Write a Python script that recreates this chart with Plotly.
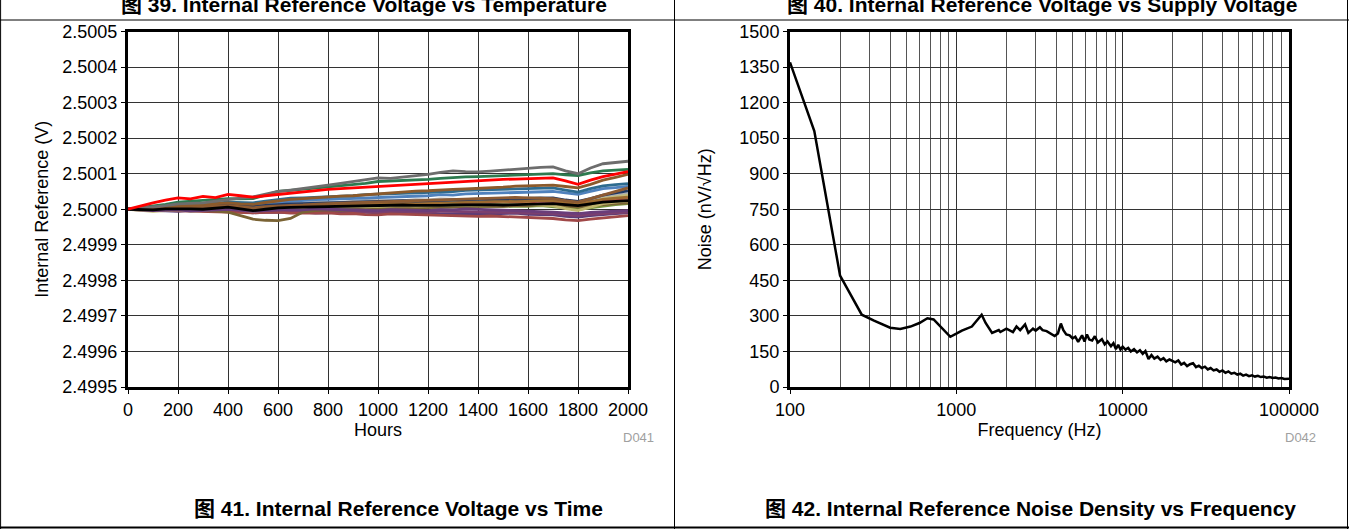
import plotly.graph_objects as go

# ---- 图 41: reference drift vs time (deviation from 2.5 V, in uV) ----
hours = [0, 50, 100, 150, 200, 250, 300, 350, 400, 450, 500, 550, 600, 650, 700,
         750, 800, 850, 900, 950, 1000, 1050, 1100, 1150, 1200, 1250, 1300, 1350,
         1400, 1450, 1500, 1550, 1600, 1650, 1700, 1750, 1800, 1850, 1900, 1950, 2000]

drift_colors = ['#b0b0b0', '#c4bc7a', '#8c8c8c', '#4f81bd', '#77933c', '#c0504d',
                '#5a3c78', '#7b3f6e', '#a04848', '#7a6334', '#9c6b30', '#1f3864',
                '#bfb56d', '#8c5a32', '#6a3d7a', '#2e6b8f', '#8b5a2b', '#2d7a4f',
                '#6d6d6d', '#000000', '#ff0000']

drift_uv = [
    [0, 1, 2, 6, 8, 7, 10, 13, 14, 11, 10, 13, 16, 15, 18, 20, 20, 19, 22, 25, 24,
     23, 24, 27, 26, 29, 28, 27, 30, 31, 30, 28, 32, 33, 30, 24, 18, 26, 36, 40, 44],
    [0, -3, -4, 1, 4, 0, 2, 6, 8, 3, 0, 5, 10, 9, 12, 14, 14, 12, 14, 17, 16,
     15, 18, 21, 20, 19, 22, 24, 22, 21, 24, 27, 26, 24, 22, 12, 6, 16, 30, 35, 40],
    [0, 1, 0, 3, 2, 5, 4, 7, 6, 3, 2, 5, 8, 9, 10, 13, 12, 11, 12, 15, 14,
     17, 16, 19, 18, 17, 18, 21, 20, 23, 22, 25, 24, 23, 22, 18, 14, 20, 26, 27, 30],
    [0, 3, 4, 8, 10, 9, 12, 15, 16, 13, 12, 17, 20, 23, 24, 27, 28, 29, 30, 33, 34,
     35, 36, 37, 38, 41, 40, 43, 44, 45, 46, 47, 48, 51, 50, 46, 42, 50, 58, 61, 64],
    [0, -1, -2, -1, 0, 1, -2, 0, 2, -2, -4, -1, 0, 3, 2, 1, 2, 5, 4, 3, 4,
     7, 6, 5, 4, 5, 6, 9, 8, 7, 8, 9, 8, 10, 8, 4, 0, 5, 10, 13, 16],
    [0, 1, 2, 4, 4, 7, 6, 9, 10, 7, 4, 6, 8, 11, 10, 13, 12, 11, 12, 15, 14,
     13, 14, 17, 16, 15, 16, 19, 18, 21, 20, 19, 20, 23, 22, 18, 14, 19, 24, 26, 28],
    [0, -2, -4, -5, -6, -3, -4, -6, -4, -8, -10, -9, -8, -7, -8, -11, -10, -7, -8, -9, -10,
     -13, -12, -11, -10, -13, -12, -11, -12, -13, -12, -11, -14, -15, -16, -20, -22, -18, -14, -12, -10],
    [0, -1, -2, -3, -4, -1, -2, -4, -2, -6, -8, -7, -6, -5, -6, -3, -4, -5, -6, -7, -8,
     -5, -6, -9, -8, -5, -6, -7, -6, -9, -8, -11, -10, -11, -12, -16, -18, -14, -12, -10, -8],
    [0, -1, -2, -3, -4, -5, -6, -7, -6, -9, -10, -9, -8, -11, -10, -9, -10, -13, -12, -15, -16,
     -13, -14, -17, -16, -19, -18, -21, -20, -19, -20, -23, -22, -25, -26, -30, -32, -28, -24, -20, -18],
    [0, -1, -2, -1, 0, -3, -4, -5, -8, -18, -28, -31, -32, -26, -8, -4, -2, -3, 0, 1, 2,
     3, 4, 5, 4, 7, 6, 7, 8, 9, 8, 11, 10, 13, 12, 8, 6, 10, 14, 16, 18],
    [0, 1, 0, 3, 4, 1, 2, 6, 8, 4, 2, 5, 8, 9, 10, 13, 12, 15, 14, 13, 14,
     17, 16, 19, 18, 17, 18, 21, 20, 23, 22, 21, 22, 25, 24, 20, 16, 22, 28, 31, 34],
    [0, 1, 2, 5, 6, 9, 8, 11, 12, 9, 8, 11, 14, 15, 16, 17, 18, 21, 20, 21, 22,
     25, 24, 23, 24, 27, 26, 29, 28, 31, 30, 29, 30, 33, 32, 26, 22, 30, 40, 46, 52],
    [0, -3, -6, -4, -2, -5, -4, 1, 4, -2, -6, -2, 2, 3, 4, 7, 6, 9, 8, 7, 8,
     11, 10, 9, 10, 13, 12, 11, 12, 15, 14, 13, 14, 12, 10, 2, -4, 6, 16, 20, 24],
    [0, 1, 2, 5, 6, 7, 6, 9, 10, 7, 4, 7, 10, 11, 12, 15, 16, 17, 18, 19, 20,
     23, 22, 25, 24, 25, 26, 29, 28, 31, 30, 33, 32, 31, 30, 24, 20, 30, 40, 50, 60],
    [0, -2, -4, -3, -2, -5, -4, -1, 0, -3, -6, -4, -2, -1, -2, 1, 0, -1, -2, -3, -4,
     -1, -2, -3, -4, -1, -2, 1, 0, -3, -4, -5, -6, -7, -8, -10, -12, -9, -6, -5, -4],
    [0, 3, 6, 10, 12, 13, 14, 17, 20, 19, 18, 23, 28, 31, 32, 33, 36, 37, 38, 41, 42,
     43, 44, 47, 48, 49, 50, 53, 54, 55, 56, 57, 58, 59, 60, 54, 48, 58, 66, 69, 72],
    [0, 2, 4, 8, 10, 11, 12, 16, 18, 15, 14, 19, 24, 28, 30, 33, 34, 37, 38, 41, 44,
     47, 48, 51, 52, 55, 56, 57, 58, 61, 62, 65, 66, 67, 68, 64, 60, 70, 82, 90, 98],
    [0, 4, 8, 14, 20, 22, 24, 27, 30, 29, 30, 40, 50, 53, 56, 59, 62, 65, 68, 73, 78,
     79, 80, 82, 84, 87, 90, 91, 92, 93, 95, 96, 98, 99, 100, 97, 95, 102, 108, 110, 112],
    [0, 3, 5, 10, 15, 16, 18, 23, 28, 31, 35, 42, 50, 54, 58, 63, 68, 73, 78, 83, 88,
     87, 90, 93, 98, 104, 108, 106, 105, 107, 110, 113, 116, 118, 119, 108, 100, 116, 128, 131, 135],
    [0, -1, -2, 1, 2, 1, 0, 3, 6, 1, -4, 0, 4, 5, 6, 7, 8, 7, 8, 9, 10,
     11, 12, 11, 10, 11, 12, 13, 14, 13, 12, 13, 14, 15, 16, 13, 10, 15, 20, 22, 24],
    [0, 10, 18, 26, 32, 29, 36, 33, 42, 38, 34, 38, 42, 46, 50, 53, 56, 58, 60, 63, 66,
     67, 68, 70, 72, 74, 76, 78, 80, 82, 84, 85, 86, 87, 88, 80, 70, 82, 92, 99, 106],
]

# ---- 图 42: noise density vs frequency ----
freq_hz = [100, 140, 200, 270, 320, 400, 460, 530, 600, 670, 730, 800, 920, 1000,
           1080, 1240, 1330, 1420, 1500, 1640, 1800, 1840, 2000, 2100, 2190, 2300,
           2420, 2590, 2710, 2890, 3000, 3180, 3300, 3490, 3700, 3900, 4080, 4250,
           4400, 4580, 4800, 5000, 5190, 5400, 5700, 5900, 6100, 6300, 6550, 6800,
           7100, 7500, 7800, 8100, 8500, 8800, 9100, 9400, 9700, 10000, 10400,
           10800, 11200, 11700, 12200, 12700, 13200, 13700, 14300, 14900, 15500,
           16200, 16900, 17600, 18300, 19100, 19900, 20700, 21600, 22500, 23400,
           24400, 25400, 26500, 27600, 28700, 29900, 31200, 32500, 33800, 35200,
           36700, 38200, 39800, 41500, 43200, 45000, 46900, 48900, 50900, 53000,
           55200, 57500, 59900, 62400, 65000, 67700, 70500, 73500, 76500, 79700,
           83000, 86500, 90100, 93900, 97800, 100000]
noise_nv = [1370, 1080, 470, 305, 280, 250, 245, 255, 270, 290, 285, 255, 212, 225,
            238, 255, 280, 305, 270, 228, 240, 232, 246, 238, 232, 255,
            240, 264, 228, 246, 238, 252, 240, 236, 225, 215, 226, 268,
            240, 222, 218, 205, 212, 190, 218, 192, 222, 200, 196, 214,
            188, 202, 180, 192, 172, 185, 160, 178, 158, 170, 158,
            165, 150, 160, 146, 155, 140, 152, 118, 135, 120,
            128, 114, 122, 108, 116, 110, 104, 112, 95, 102,
            88, 96, 100, 84, 90, 80, 86, 74, 80, 70,
            74, 64, 70, 60, 66, 56, 60, 52, 56, 48,
            52, 46, 49, 44, 47, 42, 44, 39, 42, 38,
            40, 36, 38, 34, 36, 35]

FONT = 'Liberation Sans, Arial, Noto Sans CJK SC'
W, H = 1349, 529

fig = go.Figure()

for vals, col in zip(drift_uv, drift_colors):
    fig.add_trace(go.Scatter(
        x=hours, y=[2.5 + v * 1e-6 for v in vals], mode='lines',
        line=dict(color=col, width=2.8), xaxis='x', yaxis='y',
        showlegend=False, hoverinfo='skip'))

fig.add_trace(go.Scatter(
    x=freq_hz, y=noise_nv, mode='lines', line=dict(color='black', width=2.5),
    xaxis='x2', yaxis='y2', showlegend=False))

axis_common = dict(
    automargin=False,
    showline=True, linewidth=3, linecolor='black', mirror=True,
    showgrid=True, gridcolor='#333333', gridwidth=1, zeroline=False,
    ticks='outside', ticklen=4, tickcolor='black',
    tickfont=dict(family=FONT, size=18, color='black'),
    title_font=dict(family=FONT, size=18, color='black'))

fig.update_layout(
    width=W, height=H,
    margin=dict(l=0, r=0, t=0, b=0, pad=0),
    paper_bgcolor='white', plot_bgcolor='white',
    xaxis=dict(axis_common, domain=[128 / W, 628 / W], anchor='y',
               range=[0, 2000], dtick=200, title_text='Hours', title_standoff=0),
    yaxis=dict(axis_common, domain=[1 - 387 / H, 1 - 31.5 / H], anchor='x',
               range=[2.4995, 2.5005], dtick=0.0001, tickformat='.4f',
               title_text='Internal Reference (V)', title_standoff=10),
    xaxis2=dict(axis_common, domain=[790 / W, 1289 / W], anchor='y2',
                type='log', range=[2, 5],
                tickvals=[100, 1000, 10000, 100000],
                ticktext=['100', '1000', '10000', '100000'],
                minor=dict(dtick='D1', showgrid=True, gridcolor='#555555',
                           gridwidth=1, ticks=''),
                title_text='Frequency (Hz)', title_standoff=0),
    yaxis2=dict(axis_common, domain=[1 - 387 / H, 1 - 31.5 / H], anchor='x2',
                range=[0, 1500], dtick=150,
                title_text='Noise (nV/√Hz)', title_standoff=24),
)

# table borders around the figure cells
line_k = dict(color='black', width=1)
fig.add_shape(type='line', xref='paper', yref='paper', x0=0, x1=1,
              y0=1 - 20 / H, y1=1 - 20 / H, line=line_k)
fig.add_shape(type='line', xref='paper', yref='paper', x0=0, x1=1,
              y0=1 - 527.5 / H, y1=1 - 527.5 / H, line=dict(color='black', width=2))
fig.add_shape(type='line', xref='paper', yref='paper', x0=0.6 / W, x1=0.6 / W,
              y0=0, y1=1, line=line_k)
fig.add_shape(type='line', xref='paper', yref='paper', x0=674.5 / W, x1=674.5 / W,
              y0=0, y1=1, line=line_k)
fig.add_shape(type='line', xref='paper', yref='paper', x0=1347.5 / W, x1=1347.5 / W,
              y0=0, y1=1, line=line_k)

titles = [
    ('图 39. Internal Reference Voltage vs Temperature', 364, 5),
    ('图 40. Internal Reference Voltage vs Supply Voltage', 1042, 5),
    ('图 41. Internal Reference Voltage vs Time', 398, 508),
    ('图 42. Internal Reference Noise Density vs Frequency', 1030, 508),
]
for txt, cx, cy in titles:
    fig.add_annotation(text='<b>' + txt + '</b>', xref='paper', yref='paper',
                       x=cx / W, y=1 - cy / H, xanchor='center', yanchor='middle',
                       showarrow=False,
                       font=dict(family=FONT, size=21, color='black'))

for txt, rx in [('D041', 656), ('D042', 1318)]:
    fig.add_annotation(text=txt, xref='paper', yref='paper', x=rx / W,
                       y=1 - 437 / H, xanchor='right', yanchor='middle',
                       showarrow=False,
                       font=dict(family=FONT, size=13, color='#a0a0a0'))

fig.write_html("out.html", config={'displayModeBar': False},
               post_script="document.body.style.margin='0px';"
                           "document.body.style.overflow='hidden';"
                           "document.documentElement.style.overflow='hidden';")
